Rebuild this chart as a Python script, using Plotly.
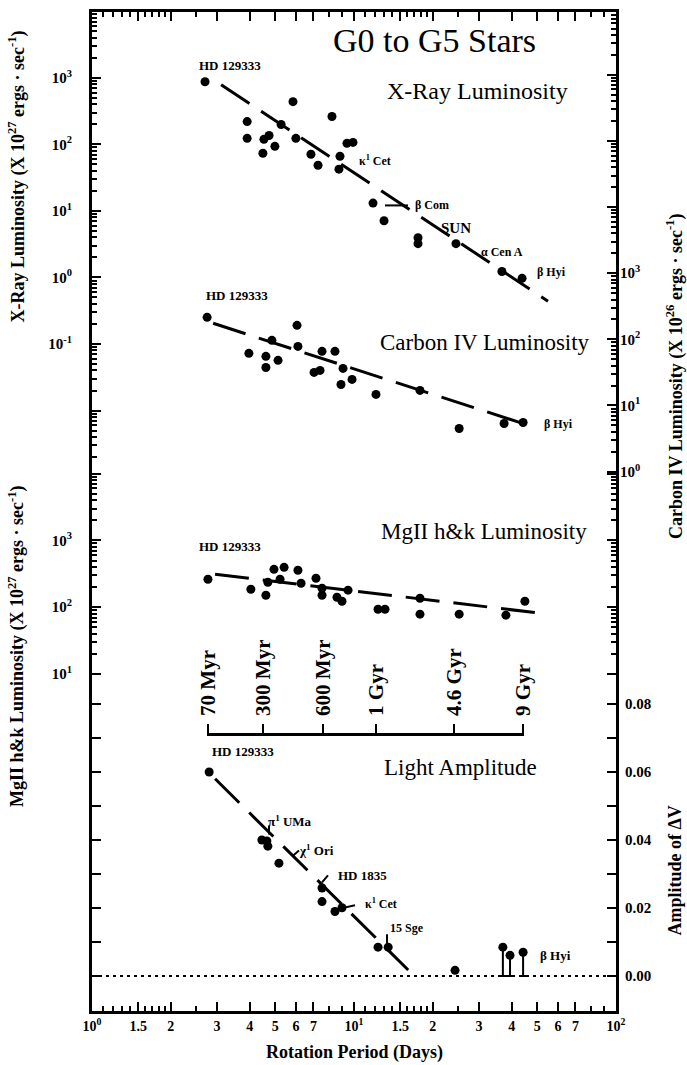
import math
import plotly.graph_objects as go

# ---------------- data ----------------
# X-ray luminosity (x 1e27 erg/s) vs rotation period (days)
xray_period = [2.70, 3.91, 3.91, 4.53, 4.74, 4.49, 4.99, 5.27, 5.85, 6.00, 8.24, 6.85,
               7.29, 8.84, 8.76, 9.40, 9.91, 11.82, 13.02, 17.55, 17.55, 24.5, 36.7, 43.8]
xray_lum = [871, 220, 123, 119, 136, 73.5, 93.3, 199, 438, 123, 262, 71,
            48.6, 66.2, 42.4, 103.5, 107, 13.1, 7.1, 3.95, 3.22, 3.22, 1.23, 0.97]
xray_fit_period = [3.11, 55.0]
xray_fit_lum = [787, 0.44]

# Carbon IV luminosity (x 1e26 erg/s)
civ_period = [2.75, 3.97, 4.61, 4.61, 5.13, 4.86, 6.06, 6.11, 7.55, 8.46, 7.04, 7.42,
              9.08, 8.92, 9.83, 12.13, 17.86, 25.2, 37.4, 44.2]
civ_lum = [215, 61.4, 55.3, 37.6, 48.1, 96.6, 163, 78.3, 65.8, 65.8, 31.6, 33.9,
           36.4, 20.8, 24.8, 14.7, 16.9, 4.49, 5.34, 5.52]
civ_fit_period = [2.90, 43.0]
civ_fit_lum = [175, 5.52]

# MgII h&k luminosity (x 1e27 erg/s)
mg_period = [2.77, 4.04, 4.61, 4.69, 4.95, 5.41, 6.11, 5.22, 6.28, 7.16, 7.55, 7.55,
             8.61, 9.0, 9.49, 12.35, 13.13, 17.86, 17.86, 25.2, 38.0, 44.9]
mg_lum = [262, 186, 151, 236, 369, 395, 357, 262, 228, 271, 192, 151,
          141, 123, 180, 93.3, 93.3, 136, 78.7, 78.7, 76.1, 123]
mg_fit_period = [2.95, 55.0]
mg_fit_lum = [311, 78.7]

# Light amplitude (Delta V)
amp_period = [2.80, 4.45, 4.65, 4.69, 5.17, 7.55, 7.55, 8.46, 9.0, 12.35, 13.5, 24.3]
amp_value = [0.060, 0.040, 0.0397, 0.0382, 0.0332, 0.0259, 0.0219, 0.0190, 0.0201,
             0.0085, 0.0085, 0.0017]
amp_err_period = [37.0, 39.4, 44.2]
amp_err_value = [0.0085, 0.0061, 0.0070]
amp_fit_period = [2.95, 16.1]
amp_fit_value = [0.058, 0.0018]
zero_period = [1, 100]
zero_value = [0, 0]

# age scale
age_period = [2.77, 4.49, 7.62, 12.13, 24.08, 44.2]
age_labels = ["70 Myr", "300 Myr", "600 Myr", "1 Gyr", "4.6 Gyr", "9 Gyr"]

# tick labels
x_tickvals = [1, 1.5, 2, 3, 4, 5, 6, 7, 10, 15, 20, 30, 40, 50, 60, 70, 100]
x_ticktext = ["10<sup>0</sup>", "1.5", "2", "3", "4", "5", "6", "7", "10<sup>1</sup>",
              "1.5", "2", "3", "4", "5", "6", "7", "10<sup>2</sup>"]
x_minor = [1.1, 1.2, 1.3, 1.4, 1.6, 1.7, 1.8, 1.9, 2.5, 8, 9,
           11, 12, 13, 14, 16, 17, 18, 19, 25, 80, 90]
xray_tickvals = [1e-2, 1e-1, 1, 10, 100, 1000]
xray_ticktext = ["", "10<sup>-1</sup>", "10<sup>0</sup>", "10<sup>1</sup>", "10<sup>2</sup>", "10<sup>3</sup>"]
civ_tickvals = [1, 10, 100, 1000, 1e4, 1e5, 1e6]
civ_ticktext = ["10<sup>0</sup>", "10<sup>1</sup>", "10<sup>2</sup>", "10<sup>3</sup>", "", "", ""]
mg_tickvals = [10, 100, 1000, 1e4]
mg_ticktext = ["10<sup>1</sup>", "10<sup>2</sup>", "10<sup>3</sup>", ""]
amp_tickvals = [0.0, 0.01, 0.02, 0.03, 0.04, 0.05, 0.06, 0.07, 0.08]
amp_ticktext = ["0.00", "", "0.02", "", "0.04", "", "0.06", "", "0.08"]

# ---------------- layout geometry ----------------
W, H = 687, 1065
L, R, T, B = 92, 616, 9, 1011


def fx(p):
    return (p - L) / (R - L)


def fy(p):
    return (B - p) / (B - T)


def axis_range(va, pa, vb, pb, log=True):
    fa = math.log10(va) if log else va
    fb = math.log10(vb) if log else vb
    k = (fa - fb) / (pb - pa)
    return [fa - (B - pa) * k, fa + (pa - T) * k]


xray_range = axis_range(1e3, 75, 1e-1, 342)
civ_range = axis_range(1e3, 271, 1e0, 470)
mg_range = axis_range(1e3, 539, 1e1, 673)
amp_range = axis_range(0.08, 703, 0.0, 976, log=False)


def decade_minors(e0, e1):
    return [k * 10 ** e for e in range(e0, e1) for k in range(2, 10)]


FONT = "Liberation Serif"
BLACK = "black"
dash = "34px,14px"

fig = go.Figure()
mk = dict(color=BLACK, size=9)

fig.add_trace(go.Scatter(x=xray_period, y=xray_lum, mode="markers", marker=mk, yaxis="y"))
fig.add_trace(go.Scatter(x=xray_fit_period, y=xray_fit_lum, mode="lines",
                         line=dict(color=BLACK, width=3, dash=dash), yaxis="y"))
fig.add_trace(go.Scatter(x=civ_period, y=civ_lum, mode="markers", marker=mk, yaxis="y2"))
fig.add_trace(go.Scatter(x=civ_fit_period, y=civ_fit_lum, mode="lines",
                         line=dict(color=BLACK, width=3, dash=dash), yaxis="y2"))
fig.add_trace(go.Scatter(x=mg_period, y=mg_lum, mode="markers", marker=mk, yaxis="y3"))
fig.add_trace(go.Scatter(x=mg_fit_period, y=mg_fit_lum, mode="lines",
                         line=dict(color=BLACK, width=3, dash=dash), yaxis="y3"))
fig.add_trace(go.Scatter(x=zero_period, y=zero_value, mode="lines",
                         line=dict(color=BLACK, width=2, dash="3px,4px"), yaxis="y4"))
fig.add_trace(go.Scatter(x=amp_period, y=amp_value, mode="markers", marker=mk, yaxis="y4"))
fig.add_trace(go.Scatter(x=amp_err_period, y=amp_err_value, mode="markers", marker=mk, yaxis="y4",
                         error_y=dict(type="data", symmetric=False, array=[0] * len(amp_err_value),
                                      arrayminus=amp_err_value, color=BLACK, thickness=2, width=3)))
fig.add_trace(go.Scatter(x=amp_fit_period, y=amp_fit_value, mode="lines",
                         line=dict(color=BLACK, width=3, dash=dash), yaxis="y4"))
# empty traces binding the helper axes (age scale and minor-tick axes)
for xa, ya in [("x2", "y"), ("x3", "y"), ("x", "y5"), ("x", "y6"), ("x", "y7")]:
    fig.add_trace(go.Scatter(x=[None], y=[None], mode="markers", xaxis=xa, yaxis=ya,
                             hoverinfo="skip"))

tickfont = dict(family=FONT, size=15, color=BLACK, weight="bold")

common_y = dict(showgrid=False, zeroline=False, ticks="inside", ticklen=9, tickwidth=2,
                tickcolor=BLACK, linecolor=BLACK, linewidth=3, tickfont=tickfont,
                tickmode="array", anchor="x")
minor_y = dict(showgrid=False, zeroline=False, ticks="inside", ticklen=5, tickwidth=1.5,
               tickcolor=BLACK, showline=False, showticklabels=False, tickmode="array",
               anchor="x", overlaying="y", type="log")

fig.update_layout(
    width=W, height=H,
    margin=dict(l=L, r=W - R, t=T, b=H - B),
    paper_bgcolor="white", plot_bgcolor="rgba(0,0,0,0)",
    showlegend=False,
    xaxis=dict(type="log", range=[0, 2], domain=[0, 1], anchor="y", showline=True,
               linewidth=3, linecolor=BLACK, mirror="ticks", ticks="inside", ticklen=9,
               tickwidth=2, tickcolor=BLACK, tickmode="array", tickvals=x_tickvals,
               ticktext=x_ticktext, tickfont=dict(family=FONT, size=14, color=BLACK, weight="bold"),
               showgrid=False, zeroline=False),
    xaxis3=dict(type="log", range=[0, 2], overlaying="x", anchor="y", side="bottom",
                mirror="ticks", ticks="inside", ticklen=5, tickwidth=1.5, tickcolor=BLACK,
                tickmode="array", tickvals=x_minor, showticklabels=False, showline=False,
                showgrid=False, zeroline=False),
    xaxis2=dict(type="log",
                range=[math.log10(age_period[0]) - 0.002, math.log10(age_period[-1]) + 0.002],
                domain=[(math.log10(age_period[0]) - 0.002) / 2, (math.log10(age_period[-1]) + 0.002) / 2],
                anchor="free", position=fy(733), side="top", showline=True, linewidth=2.5,
                linecolor=BLACK, ticks="outside", ticklen=9, tickwidth=2, tickcolor=BLACK,
                tickmode="array", tickvals=age_period, ticktext=age_labels, tickangle=-90,
                tickfont=dict(family=FONT, size=21, color=BLACK, weight="bold"),
                ticklabelstandoff=4, showgrid=False, zeroline=False),
    yaxis=dict(type="log", range=xray_range, side="left", showline=True, mirror=True,
               tickvals=xray_tickvals, ticktext=xray_ticktext, ticklabelstandoff=14, **common_y),
    yaxis2=dict(type="log", range=civ_range, side="right", overlaying="y", showline=False,
                tickvals=civ_tickvals, ticktext=civ_ticktext, ticklabelstandoff=3, **common_y),
    yaxis3=dict(type="log", range=mg_range, side="left", overlaying="y", showline=True,
                mirror="ticks", tickvals=mg_tickvals, ticktext=mg_ticktext,
                ticklabelstandoff=14, **common_y),
    yaxis4=dict(type="linear", range=amp_range, side="right", overlaying="y", showline=True,
                mirror="ticks", tickvals=amp_tickvals, ticktext=amp_ticktext,
                ticklabelstandoff=3, **common_y),
    yaxis5=dict(range=xray_range, side="left", tickvals=decade_minors(-3, 4), **minor_y),
    yaxis6=dict(range=civ_range, side="right", tickvals=decade_minors(0, 7), **minor_y),
    yaxis7=dict(range=mg_range, side="left", mirror="ticks", tickvals=decade_minors(1, 4), **minor_y),
)

# ---------------- text labels (pixel positions) ----------------
labels = [
    ("G0 to G5 Stars", 434, 38, 34, "normal"),
    ("X-Ray Luminosity", 477, 88, 24, "normal"),
    ("Carbon IV Luminosity", 485, 340, 23, "normal"),
    ("MgII h&k Luminosity", 484, 530, 23, "normal"),
    ("Light Amplitude", 460, 767, 23, "normal"),
    ("HD 129333", 230, 63, 13, "bold"),
    ("κ<sup>1</sup> Cet", 375, 158, 12, "bold"),
    ("β Com", 432, 203, 12, "bold"),
    ("SUN", 456, 226, 15, "bold"),
    ("α Cen A", 502, 250, 12, "bold"),
    ("β Hyi", 551, 270, 12, "bold"),
    ("HD 129333", 237, 293, 13, "bold"),
    ("β Hyi", 558, 422, 12, "bold"),
    ("HD 129333", 230, 545, 13, "bold"),
    ("HD 129333", 243, 751, 13, "bold"),
    ("π<sup>1</sup> UMa", 290, 820, 13, "bold"),
    ("χ<sup>1</sup> Ori", 316, 850, 13, "bold"),
    ("HD 1835", 362, 875, 13, "bold"),
    ("κ<sup>1</sup> Cet", 381, 903, 12, "bold"),
    ("15 Sge", 407, 928, 12, "bold"),
    ("β Hyi", 555, 955, 13, "bold"),
]
for text, px, py, size, wt in labels:
    fig.add_annotation(x=fx(px), y=fy(py), xref="paper", yref="paper", text=text,
                       showarrow=False, xanchor="center", yanchor="middle",
                       font=dict(family=FONT, size=size, color=BLACK, weight=wt))

titles = [
    ("X-Ray Luminosity (X 10<sup>27</sup> ergs · sec<sup>-1</sup>)", 17, 174, -90),
    ("MgII h&k Luminosity (X 10<sup>27</sup> ergs · sec<sup>-1</sup>)", 17, 645, -90),
    ("Carbon IV Luminosity (X 10<sup>26</sup> ergs · sec<sup>-1</sup>)", 675, 375, -90),
    ("Amplitude of ΔV", 675, 870, -90),
    ("Rotation Period (Days)", 354, 1053, 0),
]
for text, px, py, ang in titles:
    fig.add_annotation(x=fx(px), y=fy(py), xref="paper", yref="paper", text=text,
                       showarrow=False, textangle=ang, xanchor="center", yanchor="middle",
                       font=dict(family=FONT, size=18, color=BLACK, weight="bold"))

pointers = [
    (385, 203, 408, 203),
    (269, 825, 269, 834),
    (292, 856, 299, 850),
    (322, 882, 328, 875),
    (346, 907, 355, 905),
    (387, 934, 387, 943),
]
for x0, y0, x1, y1 in pointers:
    fig.add_shape(type="line", xref="paper", yref="paper", x0=fx(x0), y0=fy(y0),
                  x1=fx(x1), y1=fy(y1), line=dict(color=BLACK, width=2))

fig.write_html("out.html")
